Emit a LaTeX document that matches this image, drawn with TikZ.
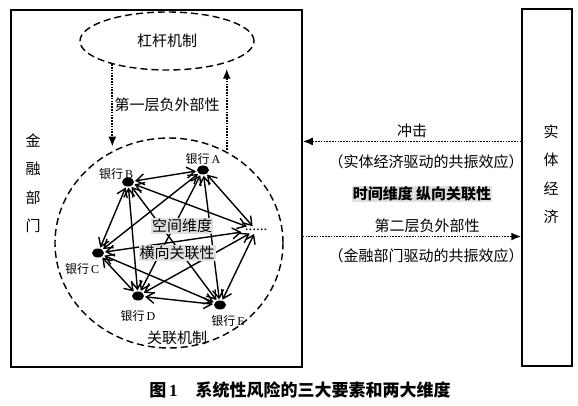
\documentclass[tikz,border=0pt]{standalone}
\usepackage{fontspec}
\setmainfont{Liberation Serif}
\newfontfamily\cjk{Noto Sans CJK SC}
\usetikzlibrary{shapes,arrows.meta,positioning,calc}
\newcommand\yh[1]{银行\,{\rmfamily #1}}

\begin{document}
\begin{tikzpicture}[
  x=1pt, y=-1pt,
  font=\cjk\fontsize{15}{18}\selectfont,
  frame/.style  = {draw, line width=1.5pt, inner sep=0pt},
  oval/.style   = {ellipse, draw, line width=1.4pt, dash pattern=on 7pt off 4pt},
  vtext/.style  = {align=center, font=\cjk\fontsize{15}{28.5}\selectfont},
  bank/.style   = {ellipse, fill=black, inner sep=0pt,
                   minimum width=12pt, minimum height=9pt},
  blabel/.style = {font=\cjk\fontsize{12}{14}\selectfont, inner sep=1pt},
  link/.style   = {<->, >={Straight Barb[length=8pt,width=11pt]}, line width=1.4pt,
                   shorten <=1pt, shorten >=1pt},
  dotarr/.style = {-{Latex[length=10pt,width=8pt]}, line width=1.7pt,
                   dash pattern=on 1.6pt off 1.2pt},
  shade/.style  = {fill=black!12, inner sep=1pt},
]
\useasboundingbox (0,0) rectangle (578,406);
\node[frame, minimum width=291, minimum height=357] (fin)  at (156.5,188.5) {};
\node[frame, minimum width=50,  minimum height=357] (real) at (547,187.5) {};
\node[vtext] (finlab)  at (33,183)  {金\\融\\部\\门};
\node[vtext] (reallab) at (551,174) {实\\体\\经\\济};

\node[oval, minimum width=174, minimum height=58]  (lever) at (167,41)  {杠杆机制};
\node[oval, minimum width=228, minimum height=210] (net)   at (169,243) {};
\node[below=24pt of lever] (ext1) {第一层负外部性};
\draw[dotarr, shorten >=3pt] (lever.203) -- (lever.203 |- net.120);
\draw[dotarr, shorten >=6pt] (lever.340 |- net.60) -- (lever.340);

\node[bank, label={[blabel]above:\yh{A}}]                             (A) at (203,170) {};
\node[bank, label={[blabel, xshift=10pt, yshift=-2pt]above left:\yh{B}}] (B) at (128,182) {};
\node[bank, label={[blabel, xshift=6pt, yshift=-5pt]below left:\yh{C}}]  (C) at (98,253)  {};
\node[bank, label={[blabel, yshift=-9pt]below:\yh{D}}]                 (D) at (138,296) {};
\node[bank, label={[blabel, xshift=8pt, yshift=-5pt]below:\yh{E}}]     (E) at (220,305) {};
\node[inner sep=2pt] (more) at (256,230) {\rmfamily......};
\foreach \a/\b in {A/B, A/C, A/D, A/E, A/more, B/C, B/D, B/E, B/more,
                   C/D, C/E, C/more, D/E, D/more, E/more}
  \draw[link] (\a) -- (\b);
\node[shade] (space) at (182,226) {空间维度};
\node[shade] (horiz) at (177,253) {横向关联性};
\node[above=0pt of net.south, xshift=8pt] (mech) {关联机制};

\node (shock) at (412,131) {冲击};
\node (res1)  at (426,162) {（实体经济驱动的共振效应）};
\node[shade, font=\cjk\bfseries\fontsize{15}{18}\selectfont] (tdim) at (422,194)
     {时间维度\ 纵向关联性};
\node (ext2)  at (427,226) {第二层负外部性};
\node (res2)  at (426,256) {（金融部门驱动的共振效应）};
\draw[dotarr] (real.west |- shock.south) -- (fin.east |- shock.south);
\draw[dotarr] (fin.east |- ext2.south) -- (real.west |- ext2.south);

\node[font=\cjk\bfseries\fontsize{17}{20}\selectfont] (cap) at (300,390)
     {图\,{\rmfamily 1}\hspace{18pt}系统性风险的三大要素和两大维度};
\end{tikzpicture}
\end{document}
